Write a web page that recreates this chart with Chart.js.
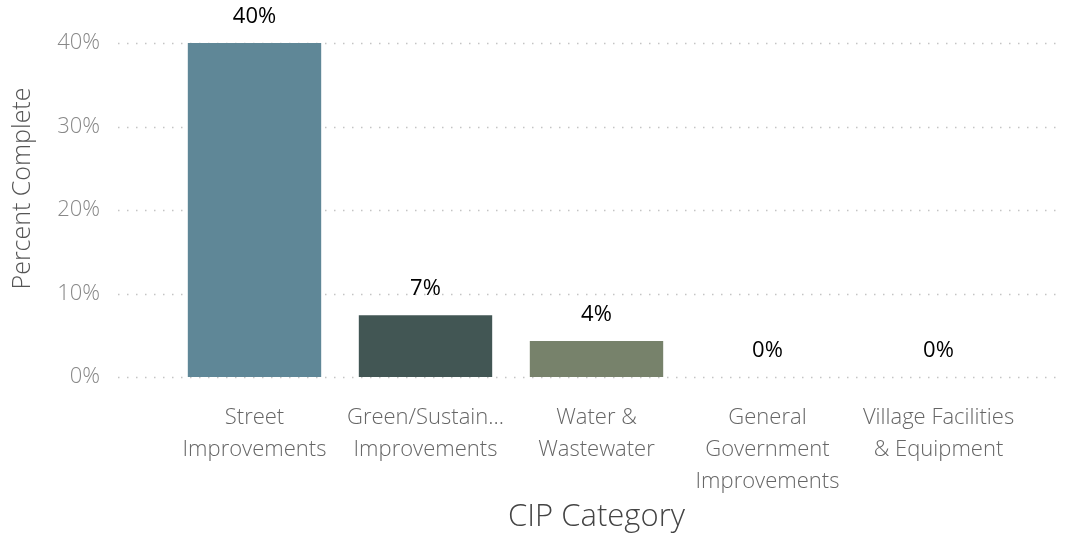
<!DOCTYPE html>
<html>
<head>
<meta charset="utf-8">
<script src="https://cdn.jsdelivr.net/npm/chart.js@4.4.0/dist/chart.umd.min.js"></script>
<style>
  html, body { margin: 0; padding: 0; background: #fff; }
  #wrap { width: 1066px; height: 538px; }
</style>
</head>
<body>
<div id="wrap"><canvas id="c" width="1066" height="538"></canvas></div>
<script>
const categories = [
  ["Street", "Improvements"],
  ["Green/Sustain...", "Improvements"],
  ["Water &", "Wastewater"],
  ["General", "Government", "Improvements"],
  ["Village Facilities", "& Equipment"]
];
const percentComplete = [40, 7.4, 4.3, 0, 0];
const barColors = ["#5F8797", "#425654", "#77826B", "#5F8797", "#5F8797"];
const yTicks = [0, 10, 20, 30, 40];
const yTitle = "Percent Complete";
const xTitle = "CIP Category";

const FONT = "'Open Sans', 'Segoe UI', 'DejaVu Sans', sans-serif";

const dottedGrid = {
  id: 'dottedGrid',
  beforeDatasetsDraw(chart) {
    const ctx = chart.ctx;
    const y = chart.scales.y;
    ctx.save();
    ctx.strokeStyle = '#c4c4c4';
    ctx.lineWidth = 1.5;
    ctx.setLineDash([1.5, 7.5]);
    yTicks.forEach(v => {
      const py = Math.round(y.getPixelForValue(v)) + 0.5;
      ctx.beginPath();
      ctx.moveTo(118, py);
      ctx.lineTo(1062, py);
      ctx.stroke();
    });
    ctx.restore();
  }
};

const yTitlePlugin = {
  id: 'yTitlePlugin',
  afterDraw(chart) {
    const ctx = chart.ctx;
    const y = chart.scales.y;
    ctx.save();
    ctx.translate(23, y.getPixelForValue(0) / 2);
    ctx.rotate(-Math.PI / 2);
    ctx.fillStyle = '#555';
    ctx.font = "300 25px " + FONT;
    ctx.textAlign = 'center';
    ctx.textBaseline = 'middle';
    ctx.fillText(yTitle, 0, 0);
    ctx.restore();
  }
};

const valueLabels = {
  id: 'valueLabels',
  afterDatasetsDraw(chart) {
    const ctx = chart.ctx;
    const meta = chart.getDatasetMeta(0);
    ctx.save();
    ctx.fillStyle = '#000';
    ctx.font = "400 22px " + FONT;
    ctx.textAlign = 'center';
    ctx.textBaseline = 'middle';
    meta.data.forEach((bar, i) => {
      ctx.fillText(Math.round(percentComplete[i]) + '%', bar.x, bar.y - 26);
    });
    ctx.restore();
  }
};

new Chart(document.getElementById('c'), {
  type: 'bar',
  data: {
    labels: categories,
    datasets: [{
      data: percentComplete,
      backgroundColor: barColors,
      borderWidth: 0,
      categoryPercentage: 0.78,
      barPercentage: 1.0
    }]
  },
  options: {
    responsive: false,
    animation: false,
    layout: { padding: { top: 43, right: 42, left: 0, bottom: 0 } },
    plugins: { legend: { display: false }, tooltip: { enabled: false } },
    scales: {
      x: {
        grid: { display: false, drawTicks: false },
        border: { display: false },
        ticks: {
          color: '#666',
          font: { family: FONT, size: 22, weight: 300, lineHeight: 1.45 },
          padding: 25,
          maxRotation: 0,
          autoSkip: false
        },
        title: {
          display: true,
          text: xTitle,
          color: '#444',
          font: { family: FONT, size: 31, weight: 300 },
          padding: { top: 0, bottom: 2 }
        },
        afterFit(scale) { scale.height = 161; scale.paddingLeft = 0; scale.paddingRight = 0; }
      },
      y: {
        min: 0,
        max: 40,
        grid: { display: false, drawTicks: false },
        border: { display: false },
        afterBuildTicks(scale) { scale.ticks = yTicks.map(v => ({ value: v })); },
        ticks: {
          color: '#888',
          font: { family: FONT, size: 22, weight: 300 },
          padding: 69,
          callback: v => v + '%'
        },
        title: { display: false },
        afterFit(scale) { scale.width = 169; scale.paddingTop = 0; scale.paddingBottom = 0; }
      }
    }
  },
  plugins: [dottedGrid, valueLabels, yTitlePlugin]
});
</script>
</body>
</html>
